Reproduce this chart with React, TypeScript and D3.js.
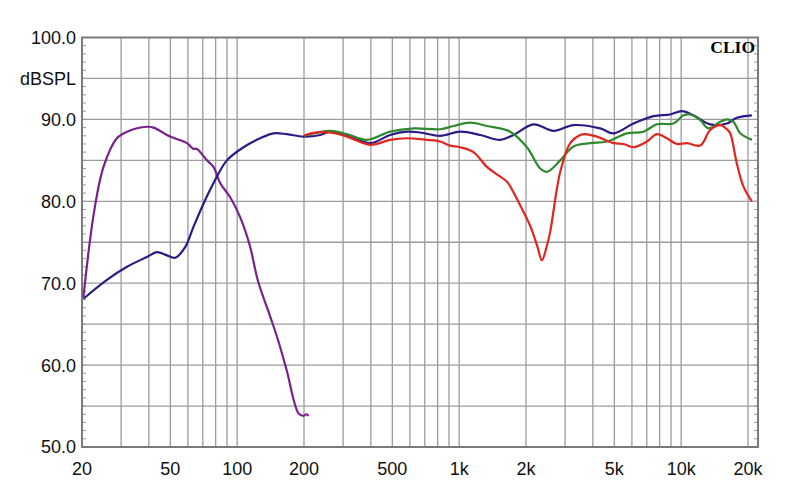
import React from "react";
import * as d3 from "d3";

const W = 800;
const H = 504;

// Frequency (Hz) / level (dB SPL) pairs
const purpleF = [20.3, 22.6, 25, 28.7, 31.9, 39.2, 42, 49.9, 59.4, 63.6, 65.9, 73.1, 78.2, 83.9, 93, 103, 114, 124, 141, 153, 167, 189, 199, 205, 210];
const purpleDb = [68.3, 78.5, 84.2, 87.7, 88.5, 89.1, 89.0, 87.9, 87.1, 86.4, 86.4, 85.0, 84.2, 82.2, 80.5, 78.1, 74.6, 70.3, 65.9, 63.0, 59.4, 54.1, 53.8, 54.0, 53.8];

const navyF = [20.3, 25.9, 31.9, 39.2, 43.5, 48.3, 52.6, 58.3, 63.6, 70.5, 78.2, 89.9, 106.8, 127, 145.7, 167.5, 199, 237, 262, 312, 397, 489, 582, 668, 821, 1011, 1244, 1531, 1757, 2162, 2661, 3274, 4318, 4958, 6100, 7506, 8922, 10078, 11366, 13510, 16070, 17820, 20820];
const navyDb = [68.1, 70.4, 72.0, 73.2, 73.8, 73.4, 73.1, 74.4, 76.9, 79.7, 82.2, 85.0, 86.6, 87.7, 88.3, 88.2, 87.9, 88.1, 88.5, 88.1, 87.1, 88.1, 88.5, 88.4, 88.0, 88.5, 88.1, 87.5, 88.1, 89.4, 88.6, 89.3, 88.9, 88.3, 89.5, 90.4, 90.6, 91.0, 90.5, 89.4, 89.5, 90.2, 90.5];

const redF = [200, 215, 262, 312, 397, 489, 582, 716, 821, 911, 1011, 1160, 1334, 1531, 1641, 1884, 2089, 2250, 2358, 2480, 2571, 2853, 3163, 3509, 3700, 4173, 4958, 5500, 6100, 7007, 7773, 8621, 9563, 10611, 12184, 13510, 14992, 16070, 16630, 17820, 19086, 20820];
const redDb = [88.0, 88.3, 88.4, 87.9, 86.9, 87.5, 87.7, 87.5, 87.3, 86.8, 86.6, 86.0, 84.2, 83.0, 82.4, 79.5, 77.0, 74.5, 72.8, 74.5, 76.3, 83.6, 87.1, 88.1, 88.2, 87.9, 87.1, 87.0, 86.6, 87.3, 88.2, 87.7, 87.0, 87.1, 86.8, 88.7, 89.3, 88.8, 88.3, 84.6, 81.8, 80.0];

const greenF = [200, 262, 312, 384, 489, 623, 821, 943, 1121, 1334, 1697, 2019, 2317, 2484, 2853, 3274, 3891, 4628, 5696, 6765, 7773, 9235, 10245, 10980, 12184, 13278, 14992, 16070, 17210, 18446, 20820];
const greenDb = [88.0, 88.6, 88.2, 87.5, 88.5, 88.9, 88.8, 89.2, 89.6, 89.2, 88.5, 86.6, 84.0, 83.6, 85.0, 86.7, 87.1, 87.3, 88.3, 88.5, 89.4, 89.5, 90.5, 90.6, 89.9, 88.9, 89.7, 90.0, 89.7, 88.3, 87.5];

const xGrid = [20, 30, 40, 50, 60, 70, 80, 90, 100, 200, 300, 400, 500, 600, 700, 800, 900, 1000, 2000, 3000, 4000, 5000, 6000, 7000, 8000, 9000, 10000, 20000];
const xTickVals = [20, 50, 100, 200, 500, 1000, 2000, 5000, 10000, 20000];
const xTickLabels = ["20", "50", "100", "200", "500", "1k", "2k", "5k", "10k", "20k"];
const yGrid = [55, 60, 65, 70, 75, 80, 85, 90, 95];
const yTickVals = [100, 90, 80, 70, 60, 50];
const yTickLabels = ["100.0", "90.0", "80.0", "70.0", "60.0", "50.0"];

const series = [
  { f: purpleF, db: purpleDb, color: "#7a228c" },
  { f: navyF, db: navyDb, color: "#2a1c84" },
  { f: greenF, db: greenDb, color: "#2e8a2e" },
  { f: redF, db: redDb, color: "#e0261e" },
];

export default function App() {
  const left = 82, right = 758, top = 37.5, bottom = 447;
  const fMax = 20 * Math.pow(10, (right - left) / 222);
  const x = d3.scaleLog().domain([20, fMax]).range([left, right]);
  const y = d3.scaleLinear().domain([50, 100]).range([bottom, top]);
  const line = d3
    .line<[number, number]>()
    .x((d) => x(d[0]))
    .y((d) => y(d[1]))
    .curve(d3.curveCatmullRom.alpha(0.5));
  const minor = d3.range(51, 100);
  const font = "Arial, 'Liberation Sans', sans-serif";

  return (
    <div style={{ position: "absolute", left: 0, top: 0 }}>
      <svg width={W} height={H} style={{ display: "block", background: "#fff" }}>
        {xGrid.map((f) => (
          <line key={"xg" + f} x1={x(f)} x2={x(f)} y1={top} y2={bottom} stroke="#9c9c9c" strokeWidth={1.3} />
        ))}
        {yGrid.map((v) => (
          <line key={"yg" + v} x1={left} x2={right} y1={y(v)} y2={y(v)} stroke="#9c9c9c" strokeWidth={1.3} />
        ))}
        {minor.map((v) => (
          <g key={"mt" + v}>
            <line x1={left} x2={left + 4} y1={y(v)} y2={y(v)} stroke="#999" strokeWidth={1} />
            <line x1={right - 4} x2={right} y1={y(v)} y2={y(v)} stroke="#999" strokeWidth={1} />
          </g>
        ))}
        <rect x={left} y={top} width={right - left} height={bottom - top} fill="none" stroke="#7a7a7a" strokeWidth={2} />
        {series.map((s, i) => (
          <path
            key={"s" + i}
            d={line(s.f.map((f, j) => [f, s.db[j]] as [number, number])) || ""}
            fill="none"
            stroke={s.color}
            strokeWidth={2.2}
            strokeLinejoin="round"
          />
        ))}
        {yTickVals.map((v, i) => (
          <text key={"yl" + v} x={76} y={y(v)} dy="0.36em" textAnchor="end" fontFamily={font} fontSize={18} fill="#111">
            {yTickLabels[i]}
          </text>
        ))}
        <text x={76} y={y(95)} dy="0.36em" textAnchor="end" fontFamily={font} fontSize={18} fill="#111">
          dBSPL
        </text>
        {xTickVals.map((f, i) => (
          <text key={"xl" + f} x={x(f)} y={474.5} textAnchor="middle" fontFamily={font} fontSize={18} fill="#111">
            {xTickLabels[i]}
          </text>
        ))}
        <text x={755} y={53} textAnchor="end" fontFamily="'Liberation Serif', 'DejaVu Serif', serif" fontWeight="bold" fontSize={17.5} fill="#000">
          CLIO
        </text>
      </svg>
    </div>
  );
}
